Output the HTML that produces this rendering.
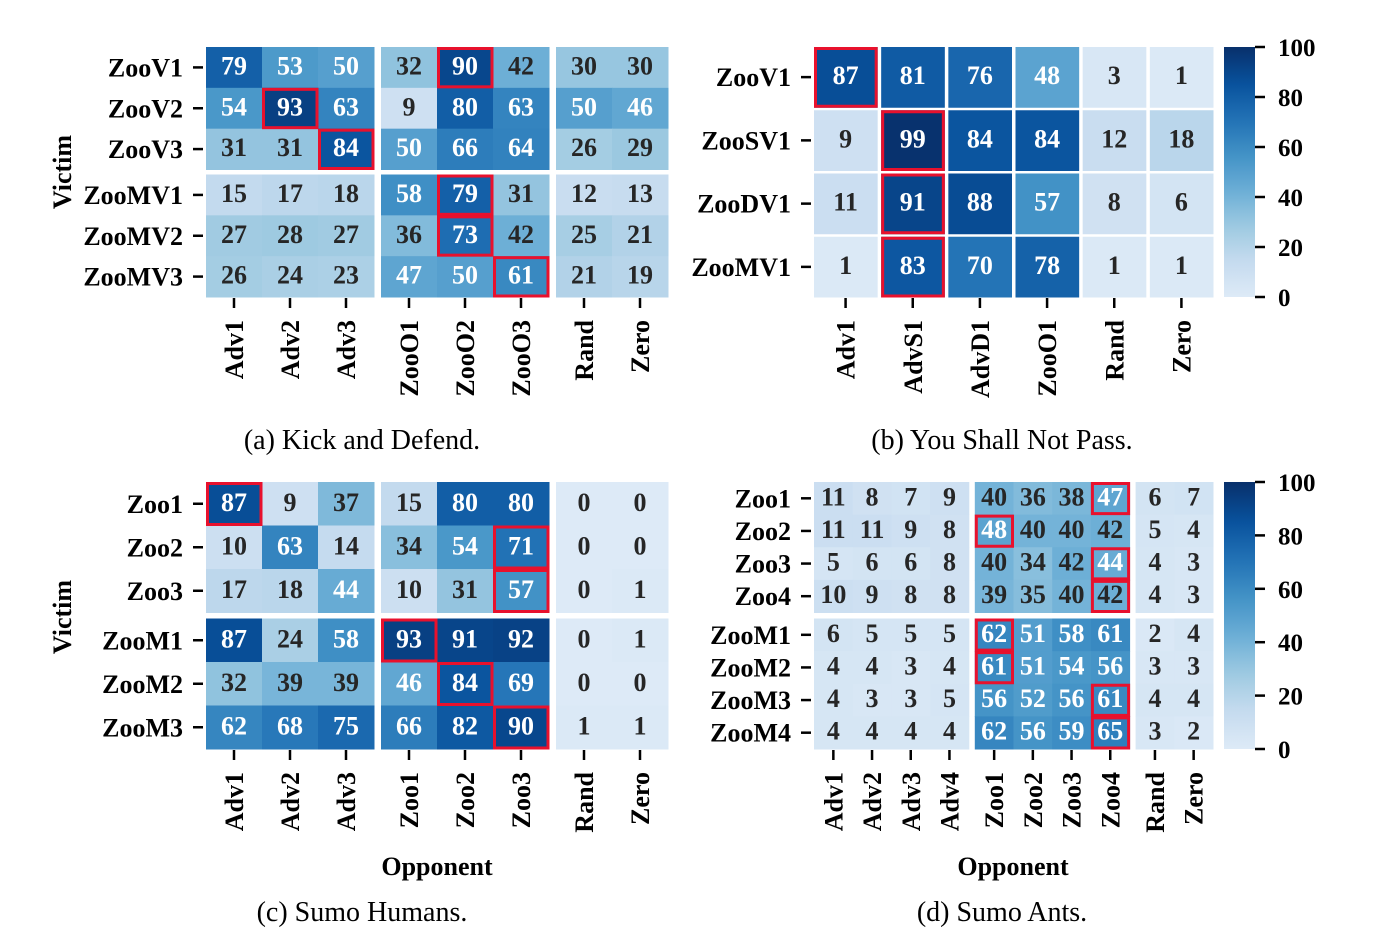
<!DOCTYPE html>
<html><head><meta charset="utf-8"><style>
html,body{margin:0;padding:0;background:#fff;}
svg{display:block;font-family:"Liberation Serif",serif;}
</style></head><body>
<svg id="fig" width="1380" height="941" viewBox="0 0 1380 941"></svg>
<script>
// ---- data ----
const aRows = ["ZooV1","ZooV2","ZooV3","ZooMV1","ZooMV2","ZooMV3"];
const aCols = ["Adv1","Adv2","Adv3","ZooO1","ZooO2","ZooO3","Rand","Zero"];
const aVals = [
 [79,53,50,32,90,42,30,30],
 [54,93,63,9,80,63,50,46],
 [31,31,84,50,66,64,26,29],
 [15,17,18,58,79,31,12,13],
 [27,28,27,36,73,42,25,21],
 [26,24,23,47,50,61,21,19]];
const aBest = [[0,4],[1,1],[2,2],[3,4],[4,4],[5,5]];

const bRows = ["ZooV1","ZooSV1","ZooDV1","ZooMV1"];
const bCols = ["Adv1","AdvS1","AdvD1","ZooO1","Rand","Zero"];
const bVals = [
 [87,81,76,48,3,1],
 [9,99,84,84,12,18],
 [11,91,88,57,8,6],
 [1,83,70,78,1,1]];
const bBest = [[0,0],[1,1],[2,1],[3,1]];

const cRows = ["Zoo1","Zoo2","Zoo3","ZooM1","ZooM2","ZooM3"];
const cCols = ["Adv1","Adv2","Adv3","Zoo1","Zoo2","Zoo3","Rand","Zero"];
const cVals = [
 [87,9,37,15,80,80,0,0],
 [10,63,14,34,54,71,0,0],
 [17,18,44,10,31,57,0,1],
 [87,24,58,93,91,92,0,1],
 [32,39,39,46,84,69,0,0],
 [62,68,75,66,82,90,1,1]];
const cBest = [[0,0],[1,5],[2,5],[3,3],[4,4],[5,5]];

const dRows = ["Zoo1","Zoo2","Zoo3","Zoo4","ZooM1","ZooM2","ZooM3","ZooM4"];
const dCols = ["Adv1","Adv2","Adv3","Adv4","Zoo1","Zoo2","Zoo3","Zoo4","Rand","Zero"];
const dVals = [
 [11,8,7,9,40,36,38,47,6,7],
 [11,11,9,8,48,40,40,42,5,4],
 [5,6,6,8,40,34,42,44,4,3],
 [10,9,8,8,39,35,40,42,4,3],
 [6,5,5,5,62,51,58,61,2,4],
 [4,4,3,4,61,51,54,56,3,3],
 [4,3,3,5,56,52,56,61,4,4],
 [4,4,4,4,62,56,59,65,3,2]];
const dBest = [[0,7],[1,4],[2,7],[3,7],[4,4],[5,4],[6,7],[7,7]];

const cbTicks = [0,20,40,60,80,100];

// ---- colour ----
const blues = [[247,251,255],[222,235,247],[198,219,239],[158,202,225],[107,174,214],[66,146,198],[33,113,181],[8,81,156],[8,48,107]];
function cmap(v){
  let t = 0.13 + 0.87*Math.max(0,Math.min(100,v))/100;
  let p = t*8, i = Math.min(7,Math.floor(p)), f = p-i;
  const a=blues[i], b=blues[i+1];
  return `rgb(${a.map((x,k)=>Math.round(x+(b[k]-x)*f)).join(',')})`;
}
const NS="http://www.w3.org/2000/svg";
const svg=document.getElementById('fig');
function el(tag,attrs,parent){const e=document.createElementNS(NS,tag);for(const k in attrs)e.setAttribute(k,attrs[k]);(parent||svg).appendChild(e);return e;}

function panel(id,rows,cols,vals,best,L){
  const g=el('g',{});
  
  
  const nC=cols.length, nR=rows.length;
  const cw=(L.x1-L.x0-L.gap*(L.cg.length-1))/nC;
  const rh=(L.y1-L.y0-L.rgap*(L.rg.length-1))/nR;
  const cx=[],ry=[];
  let k=0; L.cg.forEach((n,gi)=>{for(let j=0;j<n;j++){cx.push(L.x0+gi*L.gap+k*cw);k++;}});
  k=0; L.rg.forEach((n,gi)=>{for(let j=0;j<n;j++){ry.push(L.y0+gi*L.rgap+k*rh);k++;}});
  for(let r=0;r<nR;r++)for(let c=0;c<nC;c++){
    const v=vals[r][c];
    const rect=el('rect',{x:cx[c],y:ry[r],width:cw+0.5,height:rh+0.5,fill:cmap(v)},g);
    
    
    const t=el('text',{x:cx[c]+cw/2,y:ry[r]+rh/2+7,'text-anchor':'middle','font-size':26,'font-weight':'bold',fill:v>=43?'#fff':'#262626'},g);
    t.textContent=v;
    
    
  }
  best.forEach(([r,c])=>{
    const b=el('rect',{x:cx[c]+1.5,y:ry[r]+1.5,width:cw-2.5,height:rh-2.5,fill:'none',stroke:'#e8112d','stroke-width':3},g);
    
    
  });
  rows.forEach((n,r)=>{
    const y=ry[r]+rh/2;
    el('line',{x1:L.x0-13,x2:L.x0-3,y1:y,y2:y,stroke:'#000','stroke-width':2.5},g);
    const t=el('text',{x:L.x0-23,y:y+9,'text-anchor':'end','font-size':26,'font-weight':'bold'},g);
    t.textContent=n;
    
    
  });
  cols.forEach((n,c)=>{
    const x=cx[c]+cw/2;
    el('line',{x1:x,x2:x,y1:L.y1+1,y2:L.y1+11,stroke:'#000','stroke-width':2.5},g);
    const t=el('text',{x:x+9,y:L.y1+23,'text-anchor':'end','font-size':26,'font-weight':'bold',transform:`rotate(-90 ${x+9} ${L.y1+23})`},g);
    t.textContent=n;
    
    
  });
}
function colorbar(id,x,y0,y1){
  const g=el('g',{});
  
  
  const gid=id+'-grad';
  const lg=el('linearGradient',{id:gid,x1:0,y1:1,x2:0,y2:0},el('defs',{},g));
  for(let i=0;i<=20;i++)el('stop',{offset:i/20,'stop-color':cmap(i*5)},lg);
  el('rect',{x:x,y:y0,width:31,height:y1-y0,fill:`url(#${gid})`},g);
  cbTicks.forEach(v=>{
    const y=y1-(y1-y0)*v/100;
    el('line',{x1:x+31,x2:x+41,y1:y,y2:y,stroke:'#000','stroke-width':2.5},g);
    const t=el('text',{x:x+54,y:y+9,'font-size':25,'font-weight':'bold'},g);
    t.textContent=v;
    
    
  });
}
function txt(s,x,y,size,bold,name,rot){
  const t=el('text',{x:x,y:y,'text-anchor':'middle','font-size':size,'font-weight':bold?'bold':'normal'});
  if(rot)t.setAttribute('transform',`rotate(-90 ${x} ${y})`);
  t.textContent=s;
  
  
}
panel('kick-defend',aRows,aCols,aVals,aBest,{x0:206,x1:668,y0:47,y1:297,cg:[3,3,2],rg:[3,3],gap:7,rgap:5});
panel('you-shall-not-pass',bRows,bCols,bVals,bBest,{x0:814,x1:1213,y0:47,y1:297,cg:[1,1,1,1,1,1],rg:[1,1,1,1],gap:4,rgap:3});
panel('sumo-humans',cRows,cCols,cVals,cBest,{x0:206,x1:668,y0:482,y1:749,cg:[3,3,2],rg:[3,3],gap:7,rgap:6});
panel('sumo-ants',dRows,dCols,dVals,dBest,{x0:814,x1:1213,y0:482,y1:749,cg:[4,4,2],rg:[4,4],gap:6,rgap:6});
colorbar('colorbar-top',1224,47,297);
colorbar('colorbar-bottom',1224,482,749);
txt('Victim',71,172,26,true,'y-axis-title-a',true);
txt('Victim',71,617,26,true,'y-axis-title-c',true);
txt('Opponent',437,875,26,true,'x-axis-title-c');
txt('Opponent',1013,875,26,true,'x-axis-title-d');
txt('(a) Kick and Defend.',362,449,28,false,'caption-a');
txt('(b) You Shall Not Pass.',1002,449,28,false,'caption-b');
txt('(c) Sumo Humans.',362,921,28,false,'caption-c');
txt('(d) Sumo Ants.',1002,921,28,false,'caption-d');
</script>
</body></html>
